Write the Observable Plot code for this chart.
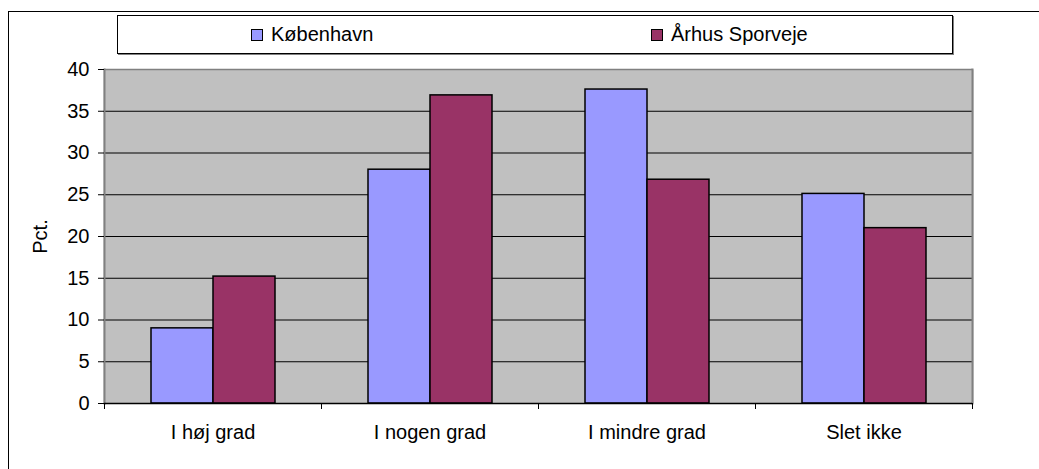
<!DOCTYPE html>
<html>
<head>
<meta charset="utf-8">
<script src="https://cdn.jsdelivr.net/npm/d3@7"></script>
<script src="https://cdn.jsdelivr.net/npm/@observablehq/plot@0.6"></script>
<style>
  html, body { margin: 0; padding: 0; background: white; }
  #wrap { position: relative; width: 1039px; height: 469px; overflow: hidden; font-family: "Liberation Sans", Arial, sans-serif; }
  #outer { position: absolute; left: 8px; top: 11px; width: 1100px; height: 520px; border-left: 1px solid black; border-top: 1px solid black; }
  #chart { position: absolute; left: 0; top: 0; }
  #legend { position: absolute; left: 117px; top: 15px; width: 834px; height: 37px; border: 1px solid black; box-shadow: 1px 1px 0 #808080; background: white; }
  .item { position: absolute; top: 0; height: 37px; display: flex; align-items: center; font-size: 20px; color: black; }
  .sw { width: 10px; height: 10px; border: 1px solid black; margin-right: 8px; }
</style>
</head>
<body>
<div id="wrap">
  <div id="outer"></div>
  <div id="chart"></div>
  <div id="legend"></div>
</div>
<script>
const categories = ["I høj grad", "I nogen grad", "I mindre grad", "Slet ikke"];
const series = ["København", "Århus Sporveje"];
const kobenhavn = [9.0, 28.0, 37.6, 25.1];
const aarhus = [15.2, 36.9, 26.8, 21.0];
const yTicks = [0, 5, 10, 15, 20, 25, 30, 35, 40];
const colors = ["#9999FF", "#993366"];
const legendLeft = [133, 533];

const data = categories.flatMap((c, i) => [
  {category: c, series: series[0], value: kobenhavn[i]},
  {category: c, series: series[1], value: aarhus[i]}
]);

const W = 1039, H = 469, mL = 104, mR = 67, mT = 69, mB = 66;
const step = (W - mL - mR) / categories.length;

const chart = Plot.plot({
  width: W, height: H,
  marginLeft: mL, marginRight: mR, marginTop: mT, marginBottom: mB,
  style: {background: "transparent", fontFamily: "'Liberation Sans', Arial, sans-serif", fontSize: "20px", color: "black"},
  fx: {domain: categories, padding: 0, label: null},
  x: {domain: series, paddingInner: 0, paddingOuter: 0.736, axis: null},
  y: {domain: [0, 40], label: null, axis: null},
  color: {domain: series, range: colors},
  marks: [
    Plot.frame({fill: "#c0c0c0", stroke: null, insetLeft: -1, insetRight: -1}),
    Plot.ruleY(yTicks.filter(t => t > 0 && t < 40), {stroke: "black", strokeWidth: 1}),
    Plot.ruleY([40], {stroke: "#808080", strokeWidth: 1.5}),
    Plot.frame({anchor: "right", stroke: "#808080", strokeWidth: 2, facetAnchor: "right"}),
    Plot.frame({anchor: "left", stroke: "#808080", strokeWidth: 2, facetAnchor: "left"}),
    Plot.barY(data, {fx: "category", x: "series", y: "value", fill: "series", stroke: "black", strokeWidth: 1.5}),
    Plot.ruleY([0], {stroke: "black", strokeWidth: 1.5}),
    Plot.axisY({ticks: yTicks, tickSize: 6, tickPadding: 9, fontSize: 20, label: "Pct.", labelAnchor: "center", labelArrow: "none", labelOffset: 72}),
    Plot.axisFx({anchor: "bottom", tickSize: 0, tickPadding: 21, label: null, fontSize: 20}),
    Plot.axisFx({anchor: "bottom", tickSize: 6, dx: -step / 2, text: null, label: null}),
    Plot.axisFx({anchor: "bottom", tickSize: 6, dx: step / 2, text: null, label: null})
  ]
});
document.getElementById("chart").appendChild(chart);

const legend = document.getElementById("legend");
series.forEach((s, i) => {
  const it = document.createElement("div");
  it.className = "item";
  it.style.left = legendLeft[i] + "px";
  const sw = document.createElement("span");
  sw.className = "sw";
  sw.style.background = colors[i];
  const tx = document.createElement("span");
  tx.textContent = s;
  it.appendChild(sw);
  it.appendChild(tx);
  legend.appendChild(it);
});
</script>
</body>
</html>
